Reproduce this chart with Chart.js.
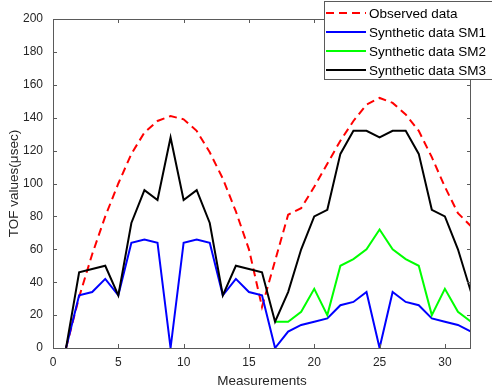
<!DOCTYPE html>
<html>
<head>
<meta charset="utf-8">
<script src="https://cdn.jsdelivr.net/npm/chart.js@4.4.1/dist/chart.umd.min.js"></script>
<style>
  html, body { margin: 0; padding: 0; background: #fff; }
  #wrap { width: 492px; height: 392px; }
</style>
</head>
<body>
<div id="wrap"><canvas id="tofChart" width="492" height="392"></canvas></div>
<script>
const measurements = [1, 2, 3, 4, 5, 6, 7, 8, 9, 10, 11, 12, 13, 14, 15, 16,
                      17, 18, 19, 20, 21, 22, 23, 24, 25, 26, 27, 28, 29, 30, 31, 32];
const observed = [0, 31, 57, 80, 100, 118, 131, 138, 141, 139, 132, 119, 103, 83, 60, 25,
                  53, 81, 85, 98, 112, 126, 138, 148, 152, 149, 142, 132, 116, 98, 82, 74];
const sm1 = [0, 32, 34, 42, 32, 64, 66, 64, 0, 64, 66, 64, 32, 42, 34, 32,
             0, 10, 14, 16, 18, 26, 28, 34, 0, 34, 28, 26, 18, 16, 14, 10];
// SM2 runs under SM3 over the first sixteen measurements, so only the second half is drawn
const sm2 = [null, null, null, null, null, null, null, null, null, null, null, null, null, null, null, null,
             16, 16, 22, 36, 20, 50, 54, 60, 72, 60, 54, 50, 20, 36, 22, 16];
const sm3 = [0, 46, 48, 50, 32, 76, 96, 90, 128, 90, 96, 76, 32, 50, 48, 46,
             16, 34, 60, 80, 84, 118, 132, 132, 128, 132, 132, 118, 84, 80, 60, 34];
const xTicks = [0, 5, 10, 15, 20, 25, 30];
const yTicks = [0, 20, 40, 60, 80, 100, 120, 140, 160, 180, 200];

const axisColor = '#262626';
const fontFamily = '"Liberation Sans", Arial, Helvetica, sans-serif';

function toPoints(values) {
    return measurements.map((m, i) => ({ x: m, y: values[i] }));
}

// box around the plot with inward tick marks on all four sides
const boxTicks = {
    id: 'boxTicks',
    afterDatasetsDraw(chart) {
        const { ctx, chartArea: a, scales } = chart;
        const len = 4;
        ctx.save();
        ctx.strokeStyle = '#5a5a5a';
        ctx.lineWidth = 1;
        ctx.beginPath();
        ctx.rect(a.left + 0.5, a.top + 0.5, a.right - a.left - 1, a.bottom - a.top);
        xTicks.forEach(v => {
            const px = Math.round(scales.x.getPixelForValue(v)) + 0.5;
            ctx.moveTo(px, a.bottom); ctx.lineTo(px, a.bottom - len);
            ctx.moveTo(px, a.top); ctx.lineTo(px, a.top + len);
        });
        yTicks.forEach(v => {
            const py = Math.round(scales.y.getPixelForValue(v)) + 0.5;
            ctx.moveTo(a.left, py); ctx.lineTo(a.left + len, py);
            ctx.moveTo(a.right, py); ctx.lineTo(a.right - len, py);
        });
        ctx.stroke();
        ctx.restore();
    }
};

// legend box in the upper right corner
const cornerLegend = {
    id: 'cornerLegend',
    afterDraw(chart) {
        const { ctx } = chart;
        const x0 = 324, y0 = 1, w = 180, rowH = 19;
        const sets = chart.data.datasets;
        ctx.save();
        ctx.fillStyle = '#fff';
        ctx.strokeStyle = '#5a5a5a';
        ctx.lineWidth = 1;
        ctx.fillRect(x0, y0, w, 78);
        ctx.strokeRect(x0 + 0.5, y0 + 0.5, w, 78);
        ctx.font = '13.5px ' + fontFamily;
        ctx.textBaseline = 'middle';
        sets.forEach((ds, i) => {
            const cy = 13 + i * rowH;
            ctx.beginPath();
            ctx.strokeStyle = ds.borderColor;
            ctx.lineWidth = ds.borderWidth;
            ctx.setLineDash(ds.borderDash || []);
            ctx.moveTo(326, cy);
            ctx.lineTo(366, cy);
            ctx.stroke();
            ctx.setLineDash([]);
            ctx.fillStyle = '#000';
            ctx.fillText(ds.label, 369, cy + 1);
        });
        ctx.restore();
    }
};

new Chart(document.getElementById('tofChart').getContext('2d'), {
    type: 'line',
    data: {
        datasets: [
            { label: 'Observed data', data: toPoints(observed), borderColor: '#ff0000',
              borderWidth: 2, borderDash: [8, 5] },
            { label: 'Synthetic data SM1', data: toPoints(sm1), borderColor: '#0000ff', borderWidth: 2 },
            { label: 'Synthetic data SM2', data: toPoints(sm2), borderColor: '#00ff00', borderWidth: 2 },
            { label: 'Synthetic data SM3', data: toPoints(sm3), borderColor: '#000000', borderWidth: 2 }
        ].map((d, i, arr) => Object.assign(d, { pointRadius: 0, fill: false, tension: 0, order: arr.length - i }))
    },
    options: {
        responsive: false,
        animation: false,
        layout: { padding: { top: 19, right: 21, left: 0, bottom: 0 } },
        plugins: { legend: { display: false }, tooltip: { enabled: false } },
        scales: {
            x: {
                type: 'linear',
                min: 0,
                max: 32,
                afterBuildTicks: s => { s.ticks = xTicks.map(v => ({ value: v })); },
                afterFit: s => { s.height = 44; },
                grid: { display: false, drawTicks: false },
                border: { display: false },
                ticks: { color: axisColor, padding: 7, maxRotation: 0, font: { family: fontFamily, size: 12 } },
                title: { display: true, text: 'Measurements', color: axisColor, padding: { top: 0, bottom: 3 },
                         font: { family: fontFamily, size: 13.5 } }
            },
            y: {
                min: 0,
                max: 200,
                afterBuildTicks: s => { s.ticks = yTicks.map(v => ({ value: v })); },
                afterFit: s => { s.width = 53; },
                grid: { display: false, drawTicks: false },
                border: { display: false },
                ticks: { color: axisColor, padding: 10, font: { family: fontFamily, size: 12 } },
                title: { display: true, text: 'TOF values(μsec)', color: axisColor, padding: { top: 6, bottom: 0 },
                         font: { family: fontFamily, size: 13.5 } }
            }
        }
    },
    plugins: [boxTicks, cornerLegend]
});
</script>
</body>
</html>
